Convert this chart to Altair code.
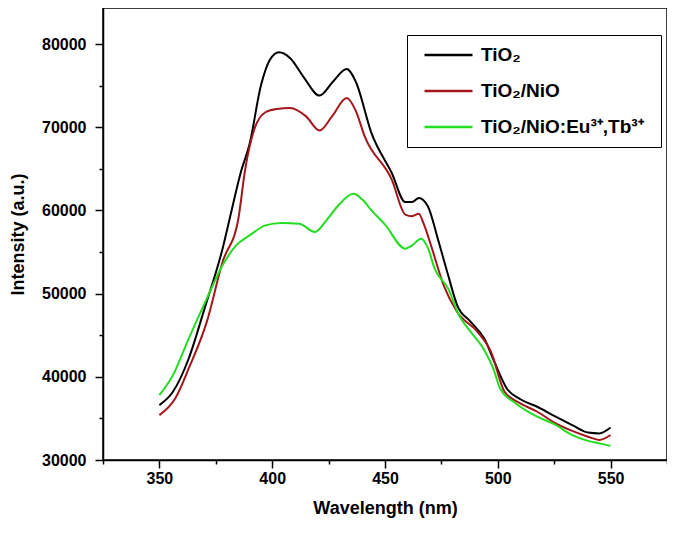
import altair as alt
import pandas as pd

# ---- data ----
series_names = ["TiO₂", "TiO₂/NiO", "TiO₂/NiO:Eu³⁺,Tb³⁺"]
series_colors = ["#000000", "#A3161A", "#22DD22"]

wl_tio2 = [350, 356, 363, 370, 378, 382, 386, 390, 395, 399, 403, 408, 414, 421,
           427, 433, 437, 444, 453, 459, 462, 465, 469, 473.5, 478, 482, 488, 494,
           498.5, 504, 510, 517.5, 525, 533, 540, 545, 550]
int_tio2 = [36600, 38200, 42200, 48200, 55400, 60000, 64500, 68000, 75000, 78100,
            79000, 78300, 76000, 73800, 75500, 77000, 75500, 69300, 64500, 61000,
            61000, 61500, 60500, 56500, 52200, 48600, 46600, 44600, 41800, 38600,
            37300, 36400, 35300, 34200, 33300, 33200, 33900]

wl_nio = [350, 357, 363, 371, 378, 385, 388, 392, 397, 402, 408, 415, 421, 426.5,
          433, 437, 441, 453, 459, 462, 465, 467, 470.5, 476, 482, 491, 497, 503,
          510, 517.5, 525, 533, 540, 545, 550]
int_nio = [35400, 37400, 41000, 46600, 53800, 59000, 64900, 69700, 71800, 72200,
           72300, 71300, 69600, 71300, 73500, 72000, 68900, 63700, 59500, 59300,
           59600, 58500, 55700, 51000, 47800, 45400, 43000, 38200, 36800, 35800,
           34500, 33500, 32800, 32400, 33000]

wl_eutb = [350, 356, 363, 371, 378, 384, 390, 397, 404, 412, 419, 424, 429, 436,
           440, 444, 450, 459, 462, 466, 469, 472, 478, 483, 488, 494, 498, 501,
           508, 517.5, 525, 533, 540, 545, 550]
int_eutb = [37800, 40200, 44600, 49400, 53400, 55800, 57000, 58200, 58500, 58400,
            57400, 58800, 60500, 62000, 61300, 60000, 58300, 55400, 55800, 56600,
            55500, 53000, 50600, 47300, 45400, 43200, 41000, 38600, 36800, 35200,
            34300, 33000, 32300, 32000, 31700]

x_major = [350, 400, 450, 500, 550]
x_minor = [325, 375, 425, 475, 525, 575]
y_major = [30000, 40000, 50000, 60000, 70000, 80000]
y_minor = [35000, 45000, 55000, 65000, 75000]

rows = []
for name, wls, vals in [(series_names[0], wl_tio2, int_tio2),
                        (series_names[1], wl_nio, int_nio),
                        (series_names[2], wl_eutb, int_eutb)]:
    for i, (w, v) in enumerate(zip(wls, vals)):
        rows.append({"series": name, "wl": w, "intensity": v, "order": i})
df = pd.DataFrame(rows)

FONT = "Liberation Sans"

x_scale = alt.Scale(domain=[325, 575], nice=False, zero=False)
y_scale = alt.Scale(domain=[30000, 84330], nice=False, zero=False)

color = alt.Color(
    "series:N",
    scale=alt.Scale(domain=series_names, range=series_colors),
    sort=series_names,
    legend=alt.Legend(
        title="\u00a0", titleOrient="right", titlePadding=15, titleFontSize=18,
        orient="none", legendX=304, legendY=27,
        symbolType="stroke", symbolSize=2304, symbolStrokeWidth=2.5,
        symbolOffset=14, clipHeight=36, rowPadding=0, padding=2, labelOffset=7,
        labelFont=FONT, labelFontWeight="bold", labelFontSize=19,
        labelColor="black", labelLimit=0,
        strokeColor="black", fillColor="white",
    ),
)

major = alt.Chart(df).mark_line(strokeWidth=2, interpolate="monotone").encode(
    x=alt.X("wl:Q", scale=x_scale,
            axis=alt.Axis(orient="bottom", values=x_major, title="Wavelength (nm)",
                          format="d", tickSize=8, tickWidth=1.5, tickColor="black",
                          domainColor="black", domainWidth=1.5, grid=False,
                          labelFont=FONT, labelFontWeight="bold", labelFontSize=16,
                          labelColor="black", labelPadding=2,
                          titleFont=FONT, titleFontWeight="bold", titleFontSize=18,
                          titleColor="black", titlePadding=13)),
    y=alt.Y("intensity:Q", scale=y_scale,
            axis=alt.Axis(orient="left", values=y_major, title="Intensity (a.u.)",
                          format="d", tickSize=8, tickWidth=1.5, tickColor="black",
                          domainColor="black", domainWidth=1.5, grid=False,
                          labelFont=FONT, labelFontWeight="bold", labelFontSize=16,
                          labelColor="black", labelPadding=9,
                          titleFont=FONT, titleFontWeight="bold", titleFontSize=18,
                          titleColor="black", titlePadding=14)),
    color=color,
    order="order:Q",
)

minor = alt.Chart(df).mark_line(strokeOpacity=0).encode(
    x=alt.X("wl:Q", scale=x_scale,
            axis=alt.Axis(orient="bottom", values=x_minor, title=None, labels=False,
                          domain=False, grid=False, tickSize=4, tickWidth=1.5,
                          tickColor="black")),
    y=alt.Y("intensity:Q", scale=y_scale,
            axis=alt.Axis(orient="left", values=y_minor, title=None, labels=False,
                          domain=False, grid=False, tickSize=4, tickWidth=1.5,
                          tickColor="black")),
    detail="series:N",
)

chart = alt.layer(major, minor).resolve_axis(x="independent", y="independent").properties(
    width=564, height=452,
    autosize=alt.AutoSizeParams(type="none"),
    padding={"left": 95, "top": 0, "right": 0, "bottom": 61},
    background="white",
).configure_view(stroke="black", strokeWidth=1.5)

chart.save("out.html", embed_options={"renderer": "svg", "actions": False})
